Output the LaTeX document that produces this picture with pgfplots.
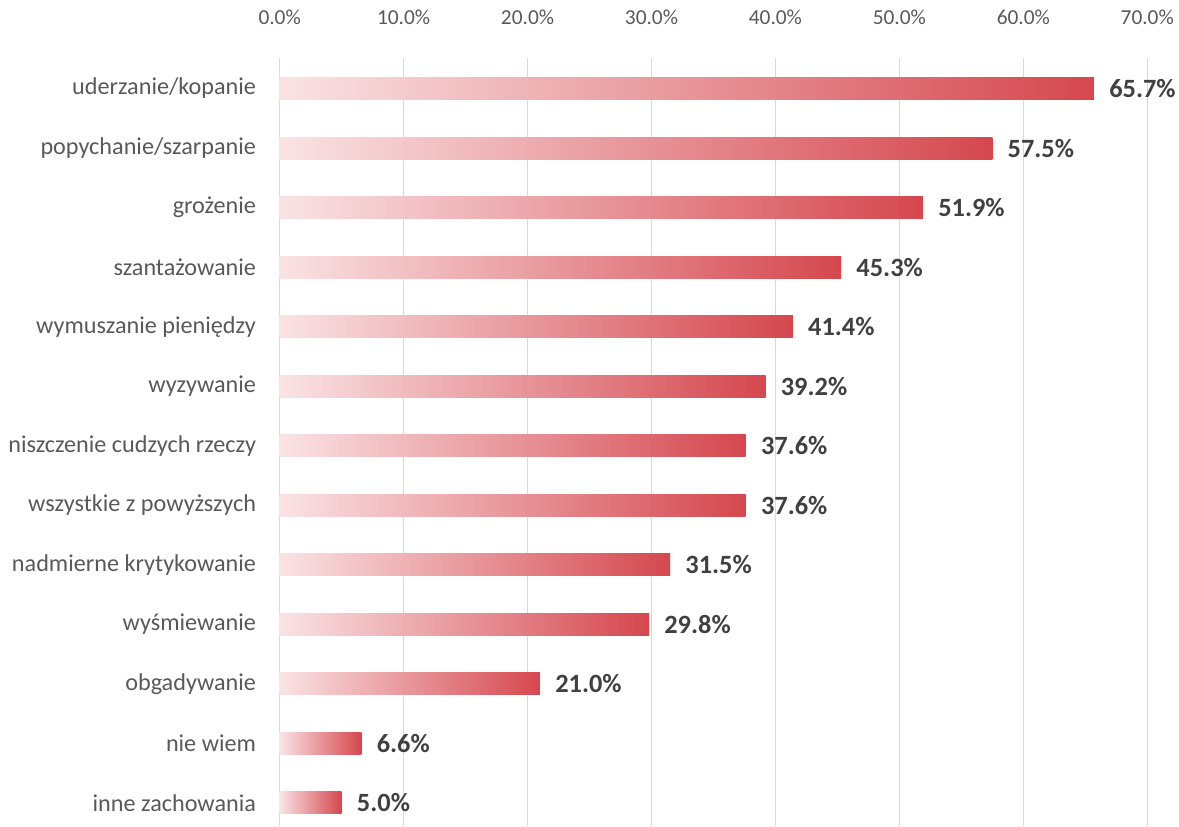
\documentclass[border=0pt]{standalone}
\usepackage{pgfplots}
\pgfplotsset{compat=1.18}
\usepackage{fontspec}
\setmainfont{Carlito}
\definecolor{txt}{HTML}{595959}
\definecolor{val}{HTML}{404040}
\definecolor{gridc}{HTML}{D9D9D9}
\definecolor{barL}{HTML}{FAE3E5}
\definecolor{barR}{HTML}{D5474E}

% each bar is its own plot, so each gets its own gradient
\pgfplotsset{gbar/.style={
    xbar, bar width=13.2pt, bar shift=0pt, draw=none,
    left color=barL, right color=barR,
    point meta=x,
    nodes near coords={\pgfmathprintnumber[fixed,fixed zerofill,precision=1]{\pgfplotspointmeta}\%},
    nodes near coords style={font=\fontsize{15.8}{18}\selectfont\bfseries, text=val,
        anchor=west, inner sep=0pt, xshift=9pt}}}

\begin{document}
\begin{tikzpicture}
\begin{axis}[
    scale only axis,
    width=520pt, height=460pt,
    xmin=0, xmax=70,
    ymin=-0.505, ymax=12.39,
    y dir=reverse,
    xtick={0,10,...,70},
    xticklabel pos=upper,
    ytick={0,...,12},
    yticklabels={uderzanie/kopanie, popychanie/szarpanie, grożenie, szantażowanie,
        wymuszanie pieniędzy, wyzywanie, niszczenie cudzych rzeczy,
        wszystkie z powyższych, nadmierne krytykowanie, wyśmiewanie,
        obgadywanie, nie wiem, inne zachowania},
    xticklabel={\pgfmathprintnumber[fixed,fixed zerofill,precision=1]{\tick}\%},
    /pgf/number format/assume math mode=true,
    axis line style={draw=none},
    major tick length=0pt,
    xmajorgrids,
    grid style={gridc, line width=0.9pt},
    xticklabel style={font=\fontsize{12.8}{15}\selectfont, text=txt, inner sep=0pt, yshift=20pt},
    yticklabel style={font=\fontsize{14.5}{17}\selectfont, text=txt, inner sep=0pt, xshift=-14pt},
    clip=false,
]
\addplot[gbar] coordinates {(65.7,0)};
\addplot[gbar] coordinates {(57.5,1)};
\addplot[gbar] coordinates {(51.9,2)};
\addplot[gbar] coordinates {(45.3,3)};
\addplot[gbar] coordinates {(41.4,4)};
\addplot[gbar] coordinates {(39.2,5)};
\addplot[gbar] coordinates {(37.6,6)};
\addplot[gbar] coordinates {(37.6,7)};
\addplot[gbar] coordinates {(31.5,8)};
\addplot[gbar] coordinates {(29.8,9)};
\addplot[gbar] coordinates {(21.0,10)};
\addplot[gbar] coordinates {(6.6,11)};
\addplot[gbar] coordinates {(5.0,12)};
\end{axis}
% white margin as in the reference
\path ([yshift=6pt]current bounding box.north) ([xshift=-5pt]current bounding box.west)
      ([xshift=2pt]current bounding box.east);
\end{tikzpicture}
\end{document}
